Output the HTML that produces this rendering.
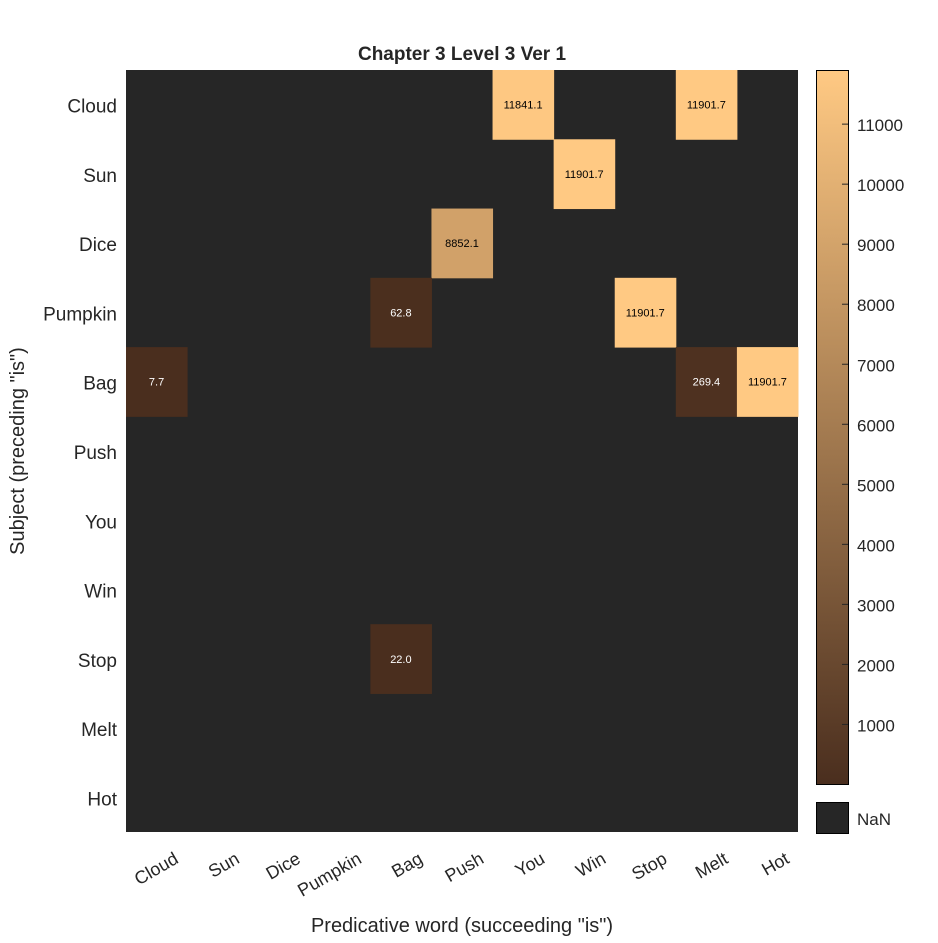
<!DOCTYPE html>
<html><head><meta charset="utf-8"><style>
body{margin:0;background:#fff}
svg text{font-family:"Liberation Sans",Arial,sans-serif}
</style></head><body>
<svg id="chart" width="938" height="938" viewBox="0 0 938 938" xmlns="http://www.w3.org/2000/svg">
<rect width="938" height="938" fill="#fff"/>
<text x="462" y="60" text-anchor="middle" font-size="19" font-weight="bold" fill="#262626">Chapter 3 Level 3 Ver 1</text>
<g id="cells"></g>
<g id="ylabels"></g>
<g id="xlabels"></g>
<text transform="translate(24,451) rotate(-90)" text-anchor="middle" font-size="20" fill="#262626">Subject (preceding "is")</text>
<text x="462" y="932" text-anchor="middle" font-size="20" fill="#262626">Predicative word (succeeding "is")</text>
<defs><linearGradient id="cg" x1="0" y1="1" x2="0" y2="0"><stop offset="0" stop-color="#4a2e1e"/><stop offset="1" stop-color="#ffc983"/></linearGradient></defs>
<rect x="816.5" y="70.5" width="32" height="714" fill="url(#cg)" stroke="#000"/>
<g id="cticks"></g>
<rect x="816.5" y="802.5" width="32" height="31" fill="#262626" stroke="#000"/>
<text x="857" y="825" font-size="17" fill="#262626">NaN</text>
</svg>
<script>
const labels = ["Cloud","Sun","Dice","Pumpkin","Bag","Push","You","Win","Stop","Melt","Hot"];
const cellRows = [0,0,1,2,3,3,4,4,4,8];
const cellCols = [6,9,7,5,4,8,0,9,10,4];
const cellValues = [11841.1,11901.7,11901.7,8852.1,62.8,11901.7,7.7,269.4,11901.7,22.0];
const cbTicks = [1000,2000,3000,4000,5000,6000,7000,8000,9000,10000,11000];
const cmin = 7.7, cmax = 11901.7;
const NS = "http://www.w3.org/2000/svg";
const X0=126, Y0=70, W=672, H=762, cw=W/11, ch=H/11;
const CB_TOP=70, CB_BOT=784;
function cy(v){return CB_BOT-(v-cmin)/(cmax-cmin)*(CB_BOT-CB_TOP);}
function color(v){const t=Math.max(0,Math.min(1,(v-cmin)/(cmax-cmin)));const a=[0x4a,0x2e,0x1e],b=[0xff,0xc9,0x83];return "rgb("+a.map((c,i)=>Math.round(c+(b[i]-c)*t)).join(",")+")";}
function mk(tag,attrs,parent){const e=document.createElementNS(NS,tag);for(const k in attrs)e.setAttribute(k,attrs[k]);parent.appendChild(e);return e;}
const cells=document.getElementById("cells");
const bg=mk("rect",{x:X0,y:Y0,width:W,height:H,fill:"#262626"},cells);


cellValues.forEach((v,i)=>{
  const x=X0+cellCols[i]*cw, y=Y0+cellRows[i]*ch;
  const r=mk("rect",{x:x,y:y,width:cw+0.5,height:ch+0.5,fill:color(v)},cells);
  
  
  const t=mk("text",{x:x+cw/2,y:y+ch/2+4,"text-anchor":"middle","font-size":"11",fill:(v>(cmin+cmax)/2?"#000":"#fff")},cells);
  t.textContent=v.toFixed(1);
  
  
});
const yl=document.getElementById("ylabels"), xl=document.getElementById("xlabels");
labels.forEach((l,i)=>{
  const t=mk("text",{x:117,y:Y0+(i+0.5)*ch+8,"text-anchor":"end","font-size":"19",fill:"#262626"},yl);
  t.textContent=l;
  
  
  const cx=X0+(i+0.5)*cw;
  const u=mk("text",{transform:"translate("+(cx+16)+",850) rotate(-30)","text-anchor":"end","font-size":"18",fill:"#262626",dy:"14"},xl);
  u.textContent=l;
  
  
});
const ct=document.getElementById("cticks");
cbTicks.forEach(v=>{
  const y=cy(v);
  const ln=mk("line",{x1:842,x2:848,y1:y,y2:y,stroke:"#262626"},ct);
  
  
  const t=mk("text",{x:857,y:y+7,"font-size":"17",fill:"#262626"},ct);
  t.textContent=v;
  
  
});
</script>
</body></html>
